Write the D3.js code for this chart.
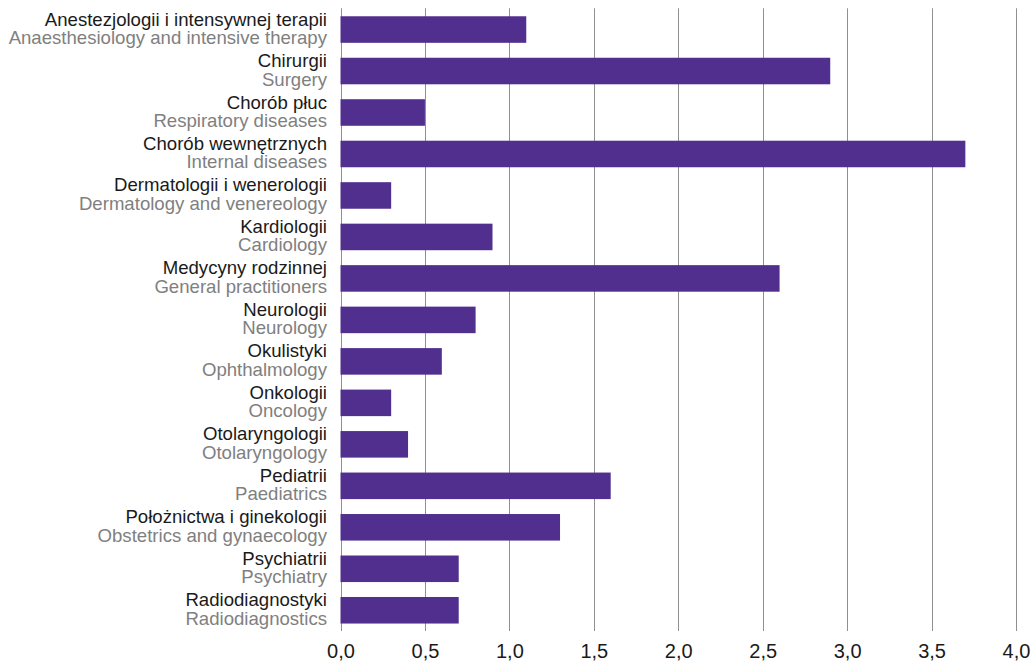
<!DOCTYPE html>
<html>
<head>
<meta charset="utf-8">
<script src="https://cdn.jsdelivr.net/npm/d3@7"></script>
<style>
  body { margin: 0; background: #fff; }
  svg { display: block; }
</style>
</head>
<body>
<div id="chart"></div>
<script>
// categories: Polish name + English name
var namesPl = ["Anestezjologii i intensywnej terapii", "Chirurgii", "Chorób płuc", "Chorób wewnętrznych",
  "Dermatologii i wenerologii", "Kardiologii", "Medycyny rodzinnej", "Neurologii", "Okulistyki",
  "Onkologii", "Otolaryngologii", "Pediatrii", "Położnictwa i ginekologii", "Psychiatrii", "Radiodiagnostyki"];
var namesEn = ["Anaesthesiology and intensive therapy", "Surgery", "Respiratory diseases", "Internal diseases",
  "Dermatology and venereology", "Cardiology", "General practitioners", "Neurology", "Ophthalmology",
  "Oncology", "Otolaryngology", "Paediatrics", "Obstetrics and gynaecology", "Psychiatry", "Radiodiagnostics"];
var values = [1.1, 2.9, 0.5, 3.7, 0.3, 0.9, 2.6, 0.8, 0.6, 0.3, 0.4, 1.6, 1.3, 0.7, 0.7];
var ticks = [0, 0.5, 1, 1.5, 2, 2.5, 3, 3.5, 4];

var width = 1031, height = 665;
var margin = {top: 8.8, right: 15, bottom: 34, left: 340.5};

var svg = d3.select("#chart")
  .append("svg")
    .attr("width", width)
    .attr("height", height);

var x = d3.scaleLinear()
  .domain([0, 4])
  .range([margin.left, 1016]);

var y = d3.scaleBand()
  .domain(d3.range(values.length))
  .range([margin.top, height - margin.bottom])
  .paddingInner(0.36)
  .paddingOuter(0.18);

// vertical grid lines
svg.append("g")
  .selectAll("line")
  .data(ticks)
  .enter()
  .append("line")
    .attr("x1", function(d) { return Math.round(x(d)) + 0.5; })
    .attr("x2", function(d) { return Math.round(x(d)) + 0.5; })
    .attr("y1", margin.top - 0.5)
    .attr("y2", height - margin.bottom)
    .attr("stroke", "#8f8f8f")
    .attr("stroke-width", 1);

// bars
svg.append("g")
  .selectAll("rect")
  .data(values)
  .enter()
  .append("rect")
    .attr("x", x(0))
    .attr("y", function(d, i) { return y(i); })
    .attr("width", function(d) { return x(d) - x(0); })
    .attr("height", y.bandwidth())
    .attr("fill", "#512f8f");

// category labels, two lines each
var labels = svg.append("g")
  .attr("font-family", "Arial, 'Liberation Sans', sans-serif")
  .attr("font-size", "18.6px")
  .attr("text-anchor", "end");

labels.selectAll(".pl")
  .data(namesPl)
  .enter()
  .append("text")
    .attr("class", "pl")
    .attr("x", 327)
    .attr("y", function(d, i) { return y(i) + y.bandwidth() / 2 - 4; })
    .attr("fill", "#1a1a1a")
    .text(function(d) { return d; });

labels.selectAll(".en")
  .data(namesEn)
  .enter()
  .append("text")
    .attr("class", "en")
    .attr("x", 327)
    .attr("y", function(d, i) { return y(i) + y.bandwidth() / 2 + 14.5; })
    .attr("fill", "#808080")
    .text(function(d) { return d; });

// x axis tick labels
var xAxis = d3.axisBottom(x)
  .tickValues(ticks)
  .tickSize(0)
  .tickPadding(0)
  .tickFormat(function(d) { return d3.format(".1f")(d).replace(".", ","); });

var ax = svg.append("g")
  .attr("transform", "translate(0," + (height - 21) + ")")
  .call(xAxis);
ax.select(".domain").remove();
ax.selectAll("text")
  .attr("font-family", "'Liberation Sans Narrow', 'Arial Narrow', sans-serif")
  .attr("font-size", "20px")
  .attr("fill", "#1a1a1a");
</script>
</body>
</html>
